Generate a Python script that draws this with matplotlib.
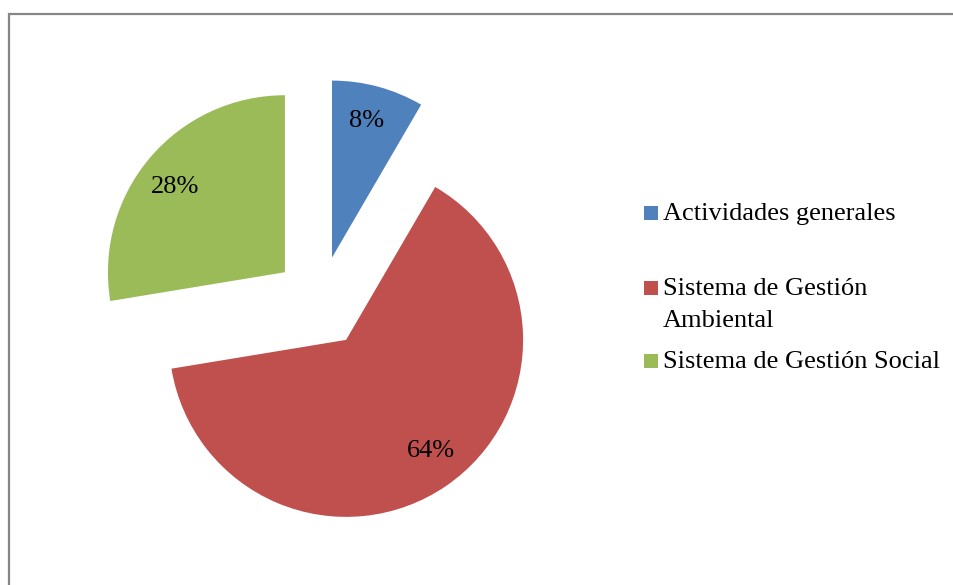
import matplotlib
matplotlib.use("Agg")
import matplotlib.pyplot as plt
from matplotlib.patches import Rectangle

categories = ["Actividades generales", "Sistema de Gestión\nAmbiental", "Sistema de Gestión Social"]
values = [8.4, 64.0, 27.6]
colors = ["#4F81BD", "#C0504D", "#9BBB59"]

W, H = 954, 585
fig = plt.figure(figsize=(W / 100, H / 100), dpi=100)
ax = fig.add_axes([0, 0, 1, 1])

font = "Liberation Serif"

# chart border (top and left visible)
ax.add_patch(Rectangle((9, -10), W + 20, H - 14 + 10, fill=False,
                       edgecolor="#868686", linewidth=1.6, zorder=0))

wedges, texts, autotexts = ax.pie(
    values, colors=colors, startangle=90, counterclock=False,
    center=(320, H - 302), radius=177, explode=[46] * len(values),
    autopct=lambda p: f"{p:.0f}%", pctdistance=0.8,
    textprops=dict(fontfamily=font, fontsize=19, color="black"),
    wedgeprops=dict(linewidth=0), frame=True)
ax.set_xlim(0, W)
ax.set_ylim(0, H)
ax.set_aspect("equal")
ax.axis("off")

# small label nudges (pixels) to match the original label placement
nudges = [(-2, 0), (5, 5), (-2, -6)]
for t, (dx, dy) in zip(autotexts, nudges):
    x, y = t.get_position()
    t.set_position((x + dx, y + dy))

baselines = [220, 295, 368]
for lab, col, yb in zip(categories, colors, baselines):
    ax.add_patch(Rectangle((644, H - yb), 14, 14,
                           facecolor=col, edgecolor="none"))
    lines = lab.split("\n")
    for k, line in enumerate(lines):
        ax.text(663, H - yb - 32 * k, line, fontfamily=font, fontsize=19,
                va="baseline", ha="left")

fig.savefig("out.png", dpi=100, facecolor="white")
